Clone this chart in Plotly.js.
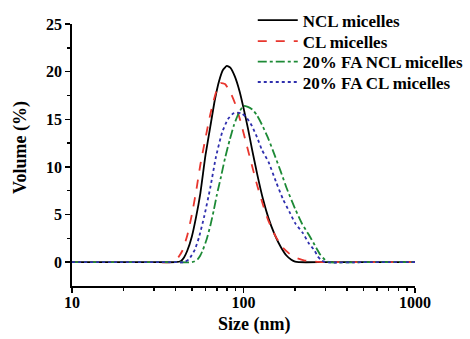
<!DOCTYPE html>
<html>
<head>
<meta charset="utf-8">
<script src="https://cdn.plot.ly/plotly-3.0.1.min.js"></script>
<style>html,body{margin:0;padding:0;background:#fff;}#chart{width:470px;height:339px;}</style>
</head>
<body>
<div id="chart"></div>
<script>
var seriesNames = ["NCL micelles", "CL micelles", "20% FA NCL micelles", "20% FA CL micelles"];

var nclSize = [10,20,30,40,43,45,47,50,53,56,60,64,68,72,76,80,84,89,95,100,106,112,120,130,140,152,165,178,190,200,210,300,500,1000];
var nclVol  = [0,0,0,0,0.1,0.5,1.2,2.7,4.8,7.2,11.2,14.2,17.0,19.0,20.2,20.6,20.4,19.5,17.9,16.2,14.1,11.9,9.3,6.6,4.6,2.9,1.6,0.7,0.25,0.05,0,0,0,0];

var clSize = [10,20,30,38,40,42,44,47,50,53,56,60,64,68,71,74,78,84,90,96,103,110,120,130,140,155,170,185,200,225,250,275,300,500,1000];
var clVol  = [0,0,0,0,0.1,0.6,1.2,2.8,5.0,7.5,10.2,13.0,15.5,17.4,18.4,18.8,18.7,17.8,16.5,14.8,12.7,10.7,8.1,6.0,4.3,2.6,1.5,0.9,0.5,0.2,0.1,0.03,0,0,0];

var faNclSize = [10,20,30,40,50,52,54,56,58,61,64,67,70,74,78,83,88,94,100,106,113,120,130,140,150,165,180,200,220,240,260,280,300,315,500,1000];
var faNclVol  = [0,0,0,0,0,0.1,0.3,0.7,1.3,2.4,3.8,5.4,7.1,9.0,10.9,12.8,14.4,15.7,16.4,16.3,16.0,15.4,14.2,12.9,11.5,9.5,7.6,5.6,4.0,2.9,1.8,0.8,0.2,0,0,0];

var faClSize = [10,20,30,40,45,48,52,55,59,64,69,75,81,87,92,98,105,112,120,128,140,155,170,185,200,222,240,260,271,285,300,500,1000];
var faClVol  = [0,0,0,0,0,0.3,1.3,2.6,4.8,7.8,11.0,13.6,15.0,15.6,15.7,15.6,15.1,14.3,13.1,11.8,10.5,8.4,6.6,5.3,4.1,3.05,2.0,1.2,0.6,0.2,0,0,0];

var xTickVals = [10, 100, 1000];
var xTickText = ["10", "100", "1000"];
var yTickVals = [0, 5, 10, 15, 20, 25];
var xTitle = "Size (nm)";
var yTitle = "Volume (%)";

var serif = "Liberation Serif, Times New Roman, serif";

function tr(x, y, name, color, dash, legendId) {
  return {x: x, y: y, name: name, type: "scatter", mode: "lines", legend: legendId,
    line: {color: color, width: 1.8, dash: dash, shape: "spline", smoothing: 0.5}};
}

var data = [
  tr(nclSize, nclVol, seriesNames[0], "#000000", "solid", "legend"),
  tr(clSize, clVol, seriesNames[1], "#e8362e", "dash", "legend2"),
  tr(faNclSize, faNclVol, seriesNames[2], "#1d8a36", "dashdot", "legend3"),
  tr(faClSize, faClVol, seriesNames[3], "#2f2fae", "dot", "legend4")
];

var titleFont = {family: serif, size: 18, color: "#000", weight: "bold"};
var tickFont = {family: serif, size: 16, color: "#000", weight: "bold"};
var legendFont = {family: serif, size: 17, color: "#000", weight: "bold"};

function leg(yPos) {
  return {x: 0.527, y: yPos, xanchor: "left", yanchor: "middle", bgcolor: "rgba(0,0,0,0)",
    font: legendFont, itemwidth: 40, borderwidth: 0};
}

var layout = {
  width: 470, height: 339,
  margin: {l: 72, r: 55, t: 24, b: 53, autoexpand: false},
  paper_bgcolor: "#fff", plot_bgcolor: "#fff",
  font: {family: serif, size: 13, color: "#000", weight: "bold"},
  showlegend: true,
  legend: leg(1.013),
  legend2: leg(0.933),
  legend3: leg(0.855),
  legend4: leg(0.777),
  xaxis: {type: "log", range: [1, 3], showgrid: false, zeroline: false,
    showline: true, linecolor: "#000", linewidth: 1.8,
    ticks: "outside", ticklen: 5, tickwidth: 1.5, tickcolor: "#000",
    tickvals: xTickVals, ticktext: xTickText, ticklabelstandoff: -4,
    minor: {ticks: "outside", ticklen: 3, tickwidth: 1.5, tickcolor: "#000", dtick: "D1"},
    tickfont: tickFont, automargin: false},
  yaxis: {range: [-2.5, 25], showgrid: false, zeroline: false,
    showline: true, linecolor: "#000", linewidth: 1.8,
    ticks: "outside", ticklen: 5, tickwidth: 1.5, tickcolor: "#000",
    tickvals: yTickVals,
    minor: {ticks: "outside", ticklen: 3, tickwidth: 1.5, tickcolor: "#000", tickvals: [2.5, 7.5, 12.5, 17.5, 22.5]},
    tickfont: tickFont, automargin: false},
  annotations: [
    {text: xTitle, xref: "paper", yref: "paper", x: 0.530, y: -0.148, xanchor: "center", yanchor: "middle",
     showarrow: false, font: titleFont},
    {text: yTitle, xref: "paper", yref: "paper", x: -0.150, y: 0.529, xanchor: "center", yanchor: "middle",
     textangle: -90, showarrow: false, font: titleFont}
  ]
};

Plotly.newPlot("chart", data, layout, {displayModeBar: false, staticPlot: true});
</script>
</body>
</html>
